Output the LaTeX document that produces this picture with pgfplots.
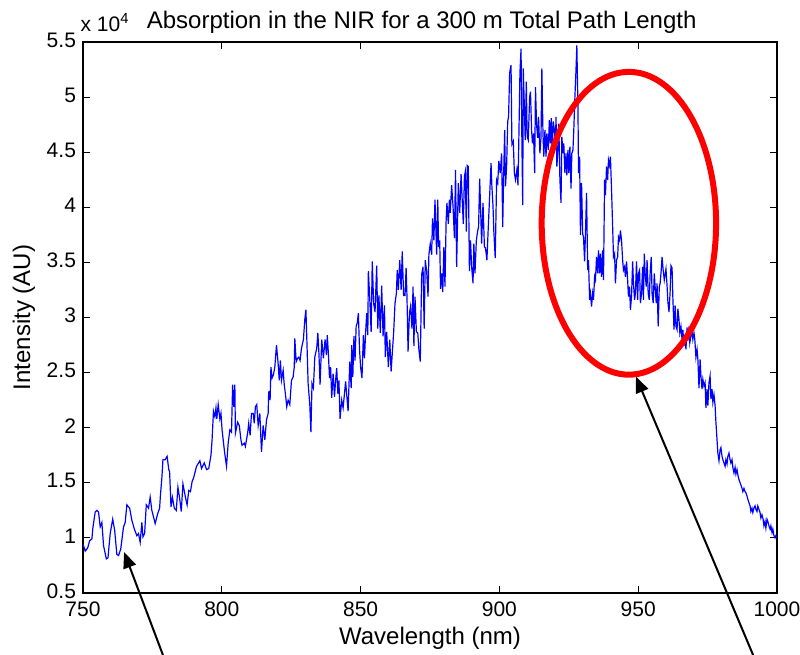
\documentclass[border=0pt]{standalone}
\usepackage{fontspec}
\setmainfont{Liberation Sans}
\usepackage{pgfplots}
\pgfplotsset{compat=1.18}
\usetikzlibrary{arrows.meta}
\pgfplotstableread{
x y
750 0.945
750.8 0.88
751.7 0.91
752.4 0.975
753.2 0.99
753.6 1.10
754.4 1.235
755 1.25
755.6 1.235
756.2 1.10
756.8 1.14
757.4 0.93
758.4 0.81
759 0.82
759.8 1.04
760.7 1.17
761.4 1.07
762.2 0.85
762.8 0.84
763.6 0.9
764.6 1.10
765.2 1.14
765.8 1.30
766.8 1.27
767.6 1.16
768.5 1.08
769.4 1.02
770 1.04
770.6 0.96
771.2 1.14
771.6 1.01
772.2 1.04
772.8 1.30
773.6 1.27
774.2 1.37
774.8 1.25
775.7 1.16
776 1.13
776.9 1.22
777.6 1.27
777.9 1.39
778.4 1.54
778.8 1.71
779.6 1.71
780.3 1.74
780.9 1.62
781.2 1.60
781.7 1.28
782.2 1.37
782.9 1.27
783.6 1.25
784.2 1.46
784.8 1.36
785.4 1.24
786 1.49
786.9 1.37
787.5 1.30
788.1 1.43
788.7 1.42
789.3 1.51
789.9 1.55
790.9 1.65
792.1 1.70
792.7 1.63
793.7 1.68
794.5 1.62
795.3 1.63
796.1 1.75
796.5 1.89
797 2.15
797.5 2.10
797.9 2.18
798.2 2.08
798.7 2.21
799.3 2.08
799.7 2.13
800.1 1.98
800.9 1.80
801.3 1.72
801.7 1.65
802.3 1.86
802.9 1.98
803.5 1.96
803.9 2.39
804.3 2.19
804.7 2.39
804.9 1.95
805.7 2.05
806.3 2.02
806.9 1.89
807.3 1.84
808.1 1.86
808.5 1.83
809.3 1.95
809.7 2.04
810.2 1.93
810.7 2.13
811.3 2.13
811.7 2.04
812.1 2.19
812.6 2.21
813.1 2.02
813.7 2.13
814.3 1.78
814.9 2.02
815.5 1.89
816.1 2.07
816.7 2.13
816.9 2.33
817.4 2.25
817.7 2.55
818.1 2.45
818.6 2.48
819.1 2.55
819.7 2.75
820.3 2.58
820.7 2.43
821.1 2.61
821.5 2.43
822.1 2.52
822.5 2.39
822.9 2.31
823.4 2.19
823.9 2.25
824.5 2.21
825.1 2.43
825.7 2.46
826.1 2.55
826.3 2.81
826.8 2.60
827.3 2.63
827.7 2.64
828.2 2.61
828.7 2.72
829.4 2.80
829.9 2.98
830.3 3.07
830.6 2.83
831.1 2.40
831.7 2.21
832.1 1.96
832.5 2.40
833 2.36
833.5 2.64
834.2 2.72
834.6 2.86
835 2.67
835.4 2.39
836 2.80
836.6 2.63
837.2 2.80
837.7 2.66
838 2.84
838.4 2.67
838.8 2.45
839.2 2.55
839.6 2.27
840.1 2.49
840.6 2.28
841 2.43
841.4 2.54
841.8 2.31
842.2 2.43
842.6 2.08
843.2 2.25
843.7 2.18
844.2 2.31
844.6 2.42
845.1 2.27
845.5 2.15
846.1 2.60
846.6 2.36
846.8 2.75
847.2 2.46
847.6 2.83
848 2.61
848.4 2.92
848.8 2.95
849.2 3.04
849.6 2.72
850 2.55
850.5 2.45
851 2.84
851.4 2.63
851.8 2.86
852.2 3.04
852.6 2.84
852.8 3.42
853.3 3.17
853.8 2.87
854.2 3.51
854.7 3.13
855.2 3.05
855.8 3.47
856.2 2.90
856.6 3.20
857.1 2.86
857.6 3.29
858.1 2.83
858.6 3.11
858.9 2.64
859.4 2.87
860 2.55
860.5 2.80
861 2.51
861.4 2.67
861.9 2.86
862.4 3.13
862.9 3.22
863.2 3.43
863.6 3.25
864.1 3.52
864.6 3.25
865 3.60
865.5 3.20
866 3.20
866.4 3.45
866.7 3.20
867.1 2.69
867.6 3.04
868 3.10
868.5 2.90
868.9 3.28
869.2 2.74
869.6 3.19
870.1 2.87
870.6 2.86
871 2.71
871.5 2.60
872 3.39
872.5 3.46
872.9 2.90
873.3 3.52
873.8 3.42
874.3 3.19
874.6 3.57
875.1 3.67
875.6 3.57
875.9 3.90
876.4 3.70
876.8 4.07
877.4 3.57
877.8 4.07
878.1 3.64
878.5 3.70
878.8 3.26
879.2 3.40
879.6 3.23
880 3.64
880.4 3.28
880.8 3.87
881.1 4.04
881.6 3.85
882 4.07
882.3 3.95
882.8 4.20
883.3 4.01
883.8 3.72
884.2 4.34
884.6 3.46
885.2 4.22
885.7 3.95
886.2 4.30
886.6 4.07
887 3.85
887.4 4.28
887.7 4.32
888.1 3.78
888.4 4.38
888.8 4.37
889.2 3.42
889.6 3.70
890 3.46
890.5 3.31
890.8 3.67
891.2 3.40
891.7 3.70
892.2 3.79
892.5 3.82
892.9 4.26
893.2 4.01
893.6 3.67
894.1 4.04
894.6 3.64
895 3.63
895.5 3.52
896 3.82
896.5 4.11
897 4.40
897.3 4.19
897.7 4.01
898 3.78
898.5 3.54
899 4.25
899.4 4.22
899.8 4.42
900.3 4.31
900.8 4.49
901.2 3.82
901.5 4.25
901.9 4.70
902.2 4.19
902.6 4.37
903 4.78
903.3 4.82
903.7 5.22
904.2 5.29
904.5 4.57
905 4.60
905.4 4.31
905.8 4.25
906.3 4.34
906.7 4.20
907 4.61
907.4 5.22
907.8 5.44
908.1 4.61
908.4 4.02
908.6 5.26
909 4.91
909.3 4.61
909.7 5.14
910 4.64
910.4 4.61
910.9 5.00
911.2 5.05
911.6 4.70
911.9 4.58
912.3 4.67
912.7 4.31
913 5.09
913.4 4.75
913.8 4.63
914.1 4.82
914.6 4.49
915 4.64
915.3 5.26
915.7 4.67
916 4.46
916.4 4.70
916.8 4.46
917.1 4.67
917.6 4.52
918 4.79
918.3 4.58
918.7 4.81
919 4.46
919.4 4.78
919.8 4.70
920.2 4.58
920.4 4.82
920.7 4.37
921.1 4.52
921.4 4.76
921.8 4.25
922.2 4.04
922.5 4.64
922.9 4.49
923.2 4.58
923.6 4.31
924 4.49
924.3 4.29
924.7 4.52
925 4.31
925.4 4.55
925.8 4.17
926.1 4.49
926.5 4.52
926.8 4.70
927.2 5.00
927.6 5.25
927.9 5.47
928.3 4.91
928.5 4.31
928.9 4.46
929.2 3.75
929.6 4.22
930 3.76
930.3 3.73
930.7 3.51
931 3.76
931.4 4.13
931.8 3.43
932.1 3.52
932.5 3.16
932.8 3.22
933.2 3.10
933.6 3.22
933.9 3.16
934.3 3.37
934.6 3.34
935 3.55
935.4 3.40
935.7 3.61
936.1 3.40
936.4 3.58
936.8 3.37
937.2 3.61
937.5 3.34
937.9 4.25
938.2 4.11
938.6 4.37
939 4.25
939.3 4.43
939.7 4.38
940 4.46
940.4 4.16
940.8 3.82
941.1 3.55
941.5 3.58
941.8 3.31
942.2 3.52
942.6 3.55
942.9 3.73
943.3 3.70
943.6 3.79
944 3.70
944.4 3.52
944.7 3.43
945.1 3.46
945.4 3.37
945.8 3.51
946.2 3.34
946.5 3.19
946.9 3.28
947.2 3.07
947.6 3.19
948 3.51
948.3 3.31
948.7 3.16
949 3.22
949.4 3.51
949.8 3.16
950.1 3.40
950.5 3.43
950.8 3.13
951.2 3.22
951.6 3.46
951.9 3.16
952.2 3.58
952.5 3.40
952.9 3.28
953.2 3.52
953.6 3.22
954 3.16
954.3 3.40
954.7 3.55
955 3.22
955.4 3.13
955.8 3.40
956.1 3.28
956.5 3.13
956.8 3.31
957.2 2.92
957.6 3.28
957.9 3.31
958.3 3.43
958.6 3.55
959 3.43
959.4 3.34
960 3.44
960.4 3.29
960.7 3.14
961.1 3.05
961.5 3.23
961.8 3.47
962.2 3.45
962.5 3.17
962.9 2.89
963.3 3.11
963.6 2.92
964 2.89
964.3 3.08
964.7 2.98
965 2.86
965.4 2.92
965.8 2.80
966.1 2.89
966.5 2.74
966.9 2.83
967.2 2.71
967.6 2.91
967.9 2.79
968.3 2.92
968.6 2.77
969 2.83
969.4 2.88
969.7 2.80
970.1 2.86
970.4 2.80
970.8 2.64
971.2 2.71
971.5 2.62
971.9 2.36
972.3 2.62
972.6 2.47
973 2.35
973.3 2.44
973.7 2.38
974.1 2.41
974.4 2.18
974.8 2.35
975.1 2.20
975.5 2.41
975.9 2.47
976.2 2.26
976.6 2.35
976.9 2.23
977.3 2.30
977.7 2.20
978 2.05
978.4 1.89
978.7 1.77
979.1 1.70
979.5 1.80
979.8 1.82
980.2 1.74
980.5 1.71
980.9 1.68
981.3 1.65
981.6 1.71
982 1.67
982.3 1.74
982.7 1.77
983.1 1.71
983.4 1.68
983.8 1.71
984.1 1.64
984.5 1.59
984.9 1.64
985.2 1.58
985.6 1.62
986 1.56
986.3 1.53
986.7 1.50
987 1.48
987.4 1.45
987.7 1.42
988.1 1.45
988.5 1.42
988.8 1.41
989.2 1.38
989.5 1.35
989.9 1.32
990.3 1.29
990.6 1.24
991 1.27
991.3 1.23
991.7 1.27
992.1 1.29
992.4 1.26
992.8 1.24
993.1 1.29
993.5 1.26
993.9 1.23
994.2 1.18
994.6 1.21
995 1.17
995.3 1.11
995.7 1.15
996 1.09
996.4 1.17
996.7 1.15
997.1 1.11
997.5 1.08
997.8 1.11
998.2 1.05
998.5 1.08
998.9 1.02
999.3 1.00
999.6 1.02
1000 1.00
}\spectrum
\begin{document}
\begin{tikzpicture}
\path[use as bounding box] (-41.5pt,-31pt) rectangle (358.5pt,296.5pt);
\begin{axis}[
  at={(0pt,0pt)}, anchor=south west,
  scale only axis, width=347pt, height=275.5pt,
  xmin=750, xmax=1000, ymin=0.5, ymax=5.5,
  xtick={750,800,850,900,950,1000},
  ytick={0.5,1,1.5,2,2.5,3,3.5,4,4.5,5,5.5},
  yticklabels={0.5,1,1.5,2,2.5,3,3.5,4,4.5,5,5.5},
  xticklabels={750,800,850,900,950,1000},
  scaled ticks=false,
  tick align=inside,
  major tick length=3.5pt,
  axis line style={line width=0.8pt},
  tick style={line width=0.5pt, black},
  tick label style={font=\fontsize{10.5}{12}\selectfont},
  xticklabel style={yshift=-1pt},
  yticklabel style={yshift=1pt},
  xlabel={Wavelength (nm)},
  ylabel={Intensity (AU)},
  label style={font=\fontsize{12}{14}\selectfont},
  xlabel style={at={(axis description cs:0.5,-0.094)}, anchor=base},
  ylabel style={at={(axis description cs:-0.085,0.5)}, anchor=center, rotate=0},
  every axis title shift=0pt,
  title={Absorption in the NIR for a 300 m Total Path Length},
  title style={font=\fontsize{12}{14}\selectfont, at={(axis description cs:0.488,1.0254)}, anchor=base},
  clip mode=individual,
]
\addplot[color={rgb,255:red,0;green,0;blue,255}, line width=0.6pt] table[x=x,y=y] {\spectrum};
\draw[color={rgb,255:red,255;green,0;blue,0}, line width=3pt] (axis cs:946.65,3.855) ellipse [x radius=43.6pt, y radius=75.7pt];
\draw[black, line width=1pt, -{Triangle[length=8pt,width=6.5pt]}] (axis cs:778.8,-0.063) -- (axis cs:764.8,0.872);
\draw[black, line width=1pt, -{Triangle[length=8pt,width=6.5pt]}] (axis cs:991.4,-0.063) -- (axis cs:949.2,2.463);
\node[anchor=base west, font=\fontsize{10.5}{12}\selectfont, inner sep=0pt] at ([yshift=5.5pt]axis description cs:-0.004,1) {x 10\textsuperscript{4}};
\end{axis}
\end{tikzpicture}
\end{document}
